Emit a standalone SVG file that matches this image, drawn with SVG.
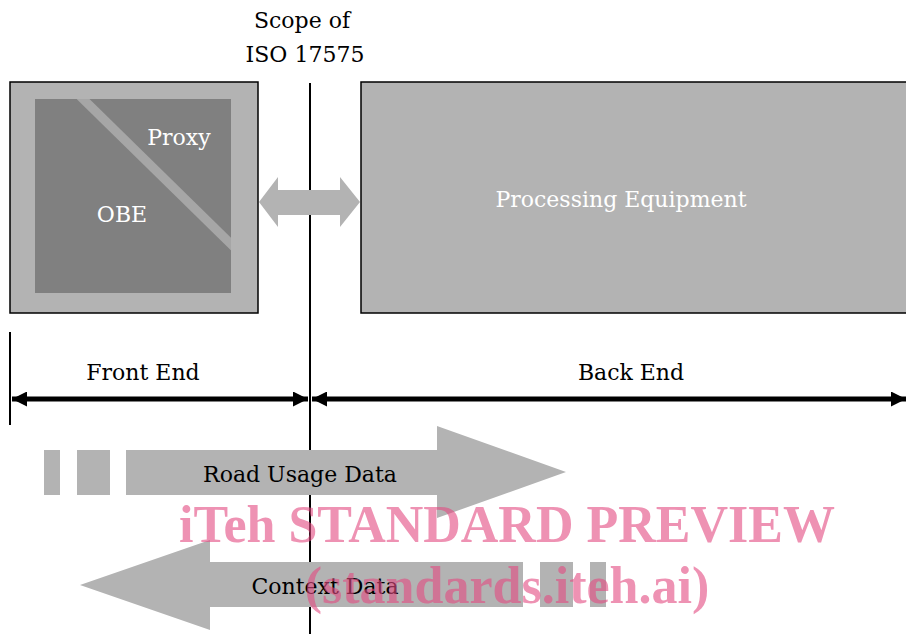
<svg xmlns="http://www.w3.org/2000/svg" width="906" height="634" viewBox="0 0 906 634">
<defs>
<style>
.t{font-family:"DejaVu Serif","Liberation Serif",serif;font-size:22px;text-anchor:middle}
.w{fill:#ffffff}
.k{fill:#000000}
.g{fill:#b3b3b3}
.wm{font-family:"Liberation Serif","DejaVu Serif",serif;font-weight:bold;font-size:52px;fill:#e24a80;fill-opacity:0.6;text-anchor:middle}
</style>
<marker id="ah" viewBox="0 0 10 10" refX="10" refY="5" markerWidth="3" markerHeight="3" orient="auto-start-reverse" markerUnits="strokeWidth">
<path d="M0,0 L10,5 L0,10 Z" fill="#000"/>
</marker>
<clipPath id="ic"><rect x="35" y="99" width="196" height="194"/></clipPath>
</defs>
<rect width="906" height="634" fill="#fff"/>
<g id="scope-label">
<text class="t k" x="302" y="28">Scope of</text>
<text class="t k" x="305" y="62">ISO 17575</text>
</g>
<g id="obe-node">
<rect x="10" y="82" width="248" height="231" fill="#b3b3b3" stroke="#000" stroke-width="1.5"/>
<rect x="35" y="99" width="196" height="194" fill="#808080"/>
<line x1="80" y1="96" x2="234" y2="247" stroke="#a6a6a6" stroke-width="9" clip-path="url(#ic)"/>
<text class="t w" x="179" y="145">Proxy</text>
<text class="t w" x="122" y="222">OBE</text>
</g>
<g id="processing-node">
<rect x="361" y="82" width="550" height="231" fill="#b3b3b3" stroke="#000" stroke-width="1.5"/>
<text class="t w" x="621" y="207">Processing Equipment</text>
</g>
<g id="connectors">
<line x1="310" y1="83" x2="310" y2="634" stroke="#000" stroke-width="2"/>
<polygon class="g" points="259,202 278,177 278,190 340,190 340,177 360,202 340,227 340,215 278,215 278,227"/>
<line x1="10" y1="332" x2="10" y2="425" stroke="#000" stroke-width="2"/>
<line x1="12" y1="399" x2="308" y2="399" stroke="#000" stroke-width="5" marker-start="url(#ah)" marker-end="url(#ah)"/>
<line x1="312" y1="399" x2="906" y2="399" stroke="#000" stroke-width="5" marker-start="url(#ah)" marker-end="url(#ah)"/>
</g>
<g id="range-labels">
<text class="t k" x="143" y="380">Front End</text>
<text class="t k" x="631" y="380">Back End</text>
</g>
<g id="road-usage-arrow">
<rect class="g" x="44" y="450" width="16" height="45"/>
<rect class="g" x="77" y="450" width="33" height="45"/>
<polygon class="g" points="126,450 437,450 437,426 566,472 437,518 437,495 126,495"/>
<text class="t k" x="300" y="482">Road Usage Data</text>
</g>
<g id="context-arrow">
<polygon class="g" points="523,562 210,562 210,540 80,585 210,630 210,607 523,607"/>
<rect class="g" x="540" y="562" width="33" height="45"/>
<rect class="g" x="590" y="562" width="16" height="45"/>
<text class="t k" x="325" y="594">Context Data</text>
</g>
<g id="watermark">
<text class="wm" x="507" y="542">iTeh STANDARD PREVIEW</text>
<text class="wm" x="507" y="603">(standards.iteh.ai)</text>
</g>
</svg>
